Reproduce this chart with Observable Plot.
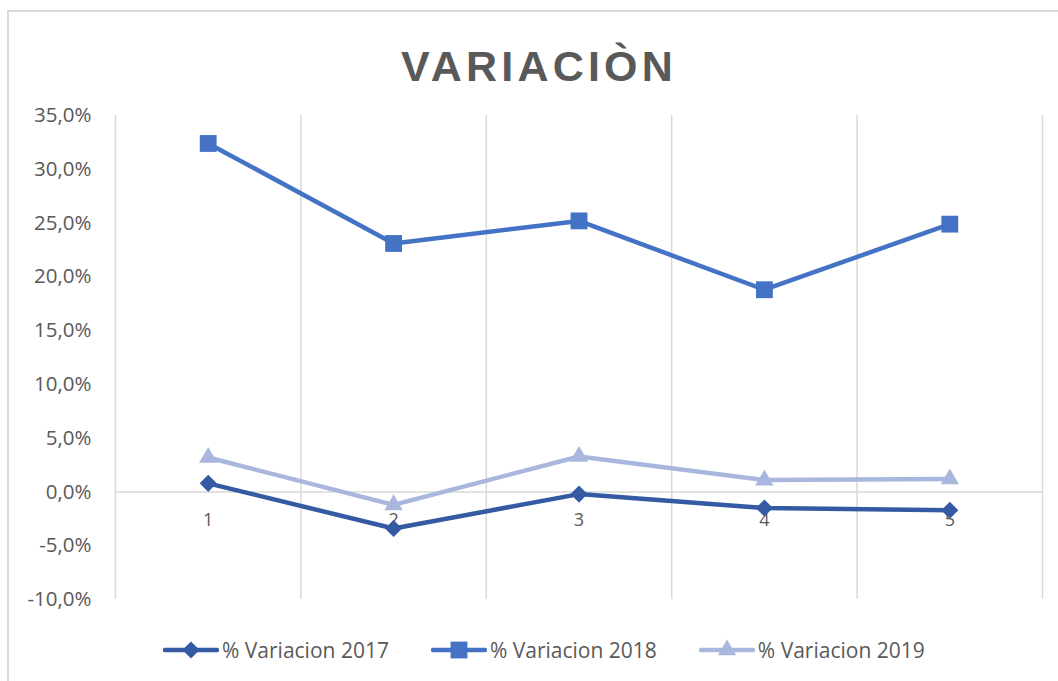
<!DOCTYPE html>
<html>
<head>
<meta charset="utf-8">
<script src="https://cdn.jsdelivr.net/npm/d3@7"></script>
<script src="https://cdn.jsdelivr.net/npm/@observablehq/plot@0.6"></script>
<style>
  html, body { margin: 0; padding: 0; background: #ffffff; }
  #page { position: relative; width: 1058px; height: 681px; overflow: hidden; }
  #frame { position: absolute; left: 7px; top: 10px; width: 1100px; height: 700px; border: 2px solid #d9d9d9; box-sizing: border-box; }
  #title { position: absolute; left: 0; top: 45px; width: 1078px; text-align: center; font-family: "Liberation Sans", Arial, sans-serif; font-weight: bold; font-size: 43px; line-height: 43px; letter-spacing: 4.2px; color: #595959; }
  #plot { position: absolute; left: 0; top: 100px; }
  #plot svg [aria-label^="y-axis"] text, #plot svg [aria-label^="y-axis"] { font-size: 20.5px; font-family: "Open Sans", sans-serif; }
  #legend { position: absolute; left: 163px; top: 638px; display: flex; gap: 42px; font-family: "Open Sans", sans-serif; font-size: 21px; line-height: 24px; color: #595959; }
  .item { display: flex; align-items: center; height: 24px; white-space: nowrap; }
  .item svg { margin-right: 3px; }
</style>
</head>
<body>
<div id="page">
  <div id="frame"></div>
  <div id="title">VARIACIÒN</div>
  <div id="plot"></div>
  <div id="legend"></div>
</div>
<script>
const categories = [1, 2, 3, 4, 5];
const v2017 = [0.8, -3.4, -0.2, -1.5, -1.7];
const v2018 = [32.4, 23.1, 25.2, 18.8, 24.9];
const v2019 = [3.2, -1.2, 3.3, 1.1, 1.2];
const seriesNames = ["% Variacion 2017", "% Variacion 2018", "% Variacion 2019"];
const seriesColors = ["#335AA2", "#4472C4", "#A9B7DE"];
const seriesSymbols = ["diamond2", "square", "triangle"];
const seriesR = [7.7, 9.5, 6.8];
const yTicks = [-10, -5, 0, 5, 10, 15, 20, 25, 30, 35];

const seriesValues = [v2017, v2018, v2019];
const rows = seriesNames.map((name, s) =>
  categories.map((c, i) => ({ series: name, cat: c, value: seriesValues[s][i] }))
);
const boundaries = [categories[0] - 0.5, ...categories.map(c => c + 0.5)];
const fmt = d => d.toFixed(1).replace(".", ",") + "%";

const marks = [
  Plot.ruleX(boundaries, { x: d => d, y1: yTicks[0], y2: yTicks[yTicks.length - 1], stroke: "#d9d9d9", strokeWidth: 1.5 }),
  Plot.ruleY([0], { x1: boundaries[0], x2: boundaries[boundaries.length - 1], stroke: "#d9d9d9", strokeWidth: 1.5 }),
  Plot.text(categories, { x: d => d, y: () => 0, text: d => String(d), dy: 28, fill: "#595959", fontSize: 18, fontFamily: "Open Sans" })
];
rows.forEach((data, s) => {
  marks.push(Plot.line(data, { x: "cat", y: "value", stroke: seriesColors[s], strokeWidth: 4.5, strokeLinejoin: "round", strokeLinecap: "round" }));
  marks.push(Plot.dot(data, { x: "cat", y: "value", symbol: seriesSymbols[s], r: seriesR[s], fill: seriesColors[s], stroke: "none" }));
});

const chart = Plot.plot({
  width: 1058,
  height: 520,
  marginLeft: 115,
  marginRight: 16,
  marginTop: 15,
  marginBottom: 21,
  style: { fontFamily: "Open Sans", fontSize: "20.5px", color: "#595959", background: "transparent" },
  x: { domain: [boundaries[0], boundaries[boundaries.length - 1]], axis: null },
  y: { domain: [yTicks[0], yTicks[yTicks.length - 1]], ticks: yTicks, tickFormat: fmt, tickSize: 0, tickPadding: 24, label: null },
  marks
});
document.getElementById("plot").appendChild(chart);

const legend = d3.select("#legend");
seriesNames.forEach((name, s) => {
  const item = legend.append("div").attr("class", "item");
  const svg = item.append("svg").attr("width", 56).attr("height", 24);
  svg.append("line").attr("x1", 2).attr("x2", 54).attr("y1", 12).attr("y2", 12)
    .attr("stroke", seriesColors[s]).attr("stroke-width", 4.5).attr("stroke-linecap", "round");
  const symType = s === 0 ? d3.symbolDiamond2 : s === 1 ? d3.symbolSquare : d3.symbolTriangle;
  svg.append("path").attr("transform", "translate(28,12)")
    .attr("d", d3.symbol(symType, Math.PI * seriesR[s] * seriesR[s])())
    .attr("fill", seriesColors[s]);
  item.append("span").text(name);
});
</script>
</body>
</html>
